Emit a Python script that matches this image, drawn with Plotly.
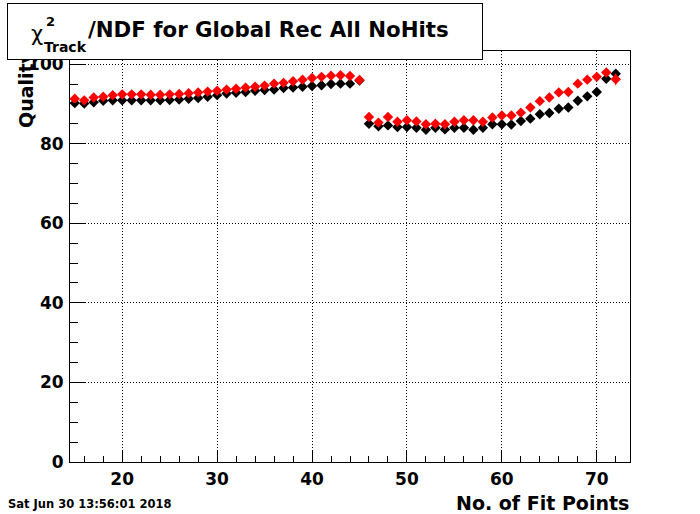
import plotly.graph_objects as go

fit_points = list(range(15, 73))

quality_black = [
    90.2, 90.1, 90.4, 90.8, 90.9, 90.9, 90.9, 90.9, 90.9, 90.9, 91.0, 91.1, 91.3, 91.5, 91.8, 92.2,
    92.6, 92.8, 93.0, 93.3, 93.5, 93.6, 94.0, 94.1, 94.3, 94.5, 94.7, 95.0, 95.1, 95.1, 95.9,
    85.0, 84.4, 84.6, 84.2, 84.2, 84.0, 83.5, 84.0, 83.6, 84.0, 84.0, 83.5, 84.0, 84.9, 84.9,
    84.8, 85.7, 86.3, 87.4, 87.7, 88.8, 89.1, 90.8, 91.9, 93.0, 96.3, 97.6,
]
quality_red = [
    91.3, 90.9, 91.6, 91.8, 92.2, 92.4, 92.4, 92.4, 92.3, 92.3, 92.4, 92.5, 92.7, 92.9, 93.1, 93.3,
    93.6, 93.8, 94.1, 94.3, 94.6, 95.1, 95.3, 95.7, 96.1, 96.5, 96.8, 97.1, 97.2, 97.0, 96.0,
    86.7, 85.3, 86.7, 85.5, 85.9, 85.6, 84.9, 85.0, 84.9, 85.5, 85.9, 85.9, 85.5, 86.6, 87.1,
    87.1, 87.8, 89.1, 90.7, 91.6, 92.9, 93.0, 95.1, 96.1, 96.8, 97.9, 96.2,
]
err_red = [0.3] * 57 + [1.5]

x_ticks = [20, 30, 40, 50, 60, 70]
y_ticks = [0, 20, 40, 60, 80, 100]

FONT = "DejaVu Sans"
W, H = 700, 514
L, R, T, B = 70, 630, 51, 462


def px(x):
    return (x - L) / (R - L)


def py(y):
    return (B - y) / (B - T)


fig = go.Figure()
fig.add_trace(go.Scatter(
    x=fit_points, y=quality_black, mode="markers",
    marker=dict(symbol="diamond", size=8, color="black"),
    showlegend=False,
))
fig.add_trace(go.Scatter(
    x=fit_points, y=quality_red, mode="markers",
    marker=dict(symbol="diamond", size=8, color="#ff0000"),
    error_y=dict(type="data", array=err_red, color="#ff0000", thickness=1, width=0),
    showlegend=False,
))

axis_common = dict(
    showline=True, linecolor="black", linewidth=1, mirror=True,
    ticks="inside", tickcolor="black", tickwidth=1,
    showgrid=True, gridcolor="black", gridwidth=1, griddash="1px,2px",
    zeroline=False,
    tickfont=dict(family=FONT, size=17, color="black", weight="bold"),
)

fig.update_xaxes(
    range=[14.5, 73.5], tickvals=x_ticks, ticklen=12,
    minor=dict(dtick=2, tick0=0, ticks="inside", ticklen=6, tickcolor="black", showgrid=False),
    ticklabelstandoff=2,
    **axis_common,
)
fig.update_yaxes(
    range=[0, 103.3], tickvals=y_ticks, ticklen=16,
    minor=dict(dtick=5, tick0=0, ticks="inside", ticklen=8, tickcolor="black", showgrid=False),
    ticklabelstandoff=2,
    **axis_common,
)

annotations = [
    dict(text="Quality", textangle=-90, x=px(26), y=py(48), xanchor="center", yanchor="top",
         font=dict(family=FONT, size=19, color="black", weight="bold")),
    dict(text=" ", x=px(7), y=py(2.5), xanchor="left", yanchor="top",
         width=474, height=55, borderpad=0, borderwidth=1, bordercolor="black", bgcolor="white"),
    dict(text="χ", x=px(28.5), y=py(34), xanchor="left", yanchor="middle",
         font=dict(family=FONT, size=21, color="black")),
    dict(text="2", x=px(50), y=py(21), xanchor="center", yanchor="middle",
         font=dict(family=FONT, size=13, color="black", weight="bold")),
    dict(text="Track", x=px(42), y=py(47), xanchor="left", yanchor="middle",
         font=dict(family=FONT, size=14, color="black", weight="bold")),
    dict(text="/NDF for Global Rec All NoHits", x=px(86), y=py(30), xanchor="left", yanchor="middle",
         font=dict(family=FONT, size=21.3, color="black", weight="bold")),
    dict(text="No. of Fit Points", x=px(631), y=py(503), xanchor="right", yanchor="middle",
         font=dict(family=FONT, size=19, color="black", weight="bold")),
    dict(text="Sat Jun 30 13:56:01 2018", x=px(6), y=py(504), xanchor="left", yanchor="middle",
         font=dict(family=FONT, size=11.5, color="black", weight="bold")),
]
for a in annotations:
    a.update(xref="paper", yref="paper", showarrow=False)

fig.update_layout(
    width=W, height=H,
    margin=dict(l=L, r=W - R, t=T, b=H - B, pad=0),
    paper_bgcolor="white", plot_bgcolor="white",
    annotations=annotations,
    showlegend=False,
)

fig.write_html(
    "out.html",
    config={"displayModeBar": False},
    post_script="document.body.style.margin='0px';document.body.style.overflow='hidden';",
)
